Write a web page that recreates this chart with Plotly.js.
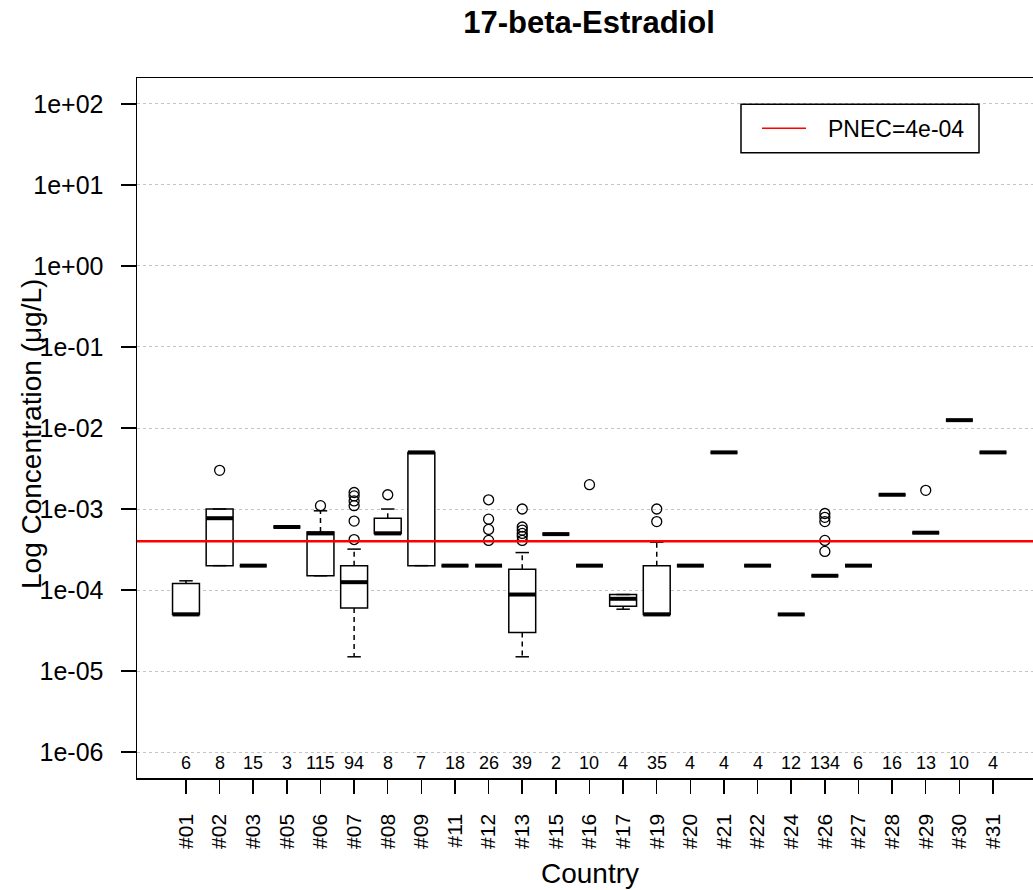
<!DOCTYPE html>
<html>
<head>
<meta charset="utf-8">
<script src="https://cdn.plot.ly/plotly-3.0.1.min.js"></script>
<style>html,body{margin:0;padding:0;background:#fff;}</style>
</head>
<body>
<div id="chart" style="width:1033px;height:890px;"></div>
<script>
// ---- data ----
var countries = ["#01","#02","#03","#05","#06","#07","#08","#09","#11","#12","#13","#15","#16","#17","#19","#20","#21","#22","#24","#26","#27","#28","#29","#30","#31"];
var counts    = [6, 8, 15, 3, 115, 94, 8, 7, 18, 26, 39, 2, 10, 4, 35, 4, 4, 4, 12, 134, 6, 16, 13, 10, 4];
var lowerWhisker = [5e-5, 2e-4, 2e-4, 6e-4, 1.5e-4, 1.5e-5, 5e-4, 2e-4, 2e-4, 2e-4, 1.5e-5, 5e-4, 2e-4, 5.8e-5, 5e-5, 2e-4, 5e-3, 2e-4, 5e-5, 1.5e-4, 2e-4, 1.5e-3, 5.1e-4, 1.25e-2, 5e-3];
var q1Values     = [5e-5, 2e-4, 2e-4, 6e-4, 1.5e-4, 6e-5, 5e-4, 2e-4, 2e-4, 2e-4, 3e-5, 5e-4, 2e-4, 6.3e-5, 5e-5, 2e-4, 5e-3, 2e-4, 5e-5, 1.5e-4, 2e-4, 1.5e-3, 5.1e-4, 1.25e-2, 5e-3];
var medianValues = [5e-5, 7.7e-4, 2e-4, 6e-4, 5e-4, 1.25e-4, 5e-4, 5e-3, 2e-4, 2e-4, 8.8e-5, 4.9e-4, 2e-4, 7.8e-5, 5e-5, 2e-4, 5e-3, 2e-4, 5e-5, 1.5e-4, 2e-4, 1.5e-3, 5.1e-4, 1.25e-2, 5e-3];
var q3Values     = [1.2e-4, 1e-3, 2e-4, 6e-4, 5.2e-4, 2e-4, 7.7e-4, 5e-3, 2e-4, 2e-4, 1.8e-4, 4.9e-4, 2e-4, 8.8e-5, 2e-4, 2e-4, 5e-3, 2e-4, 5e-5, 1.5e-4, 2e-4, 1.5e-3, 5.1e-4, 1.25e-2, 5e-3];
var upperWhisker = [1.3e-4, 1e-3, 2e-4, 6e-4, 9.5e-4, 3.2e-4, 1e-3, 5e-3, 2e-4, 2e-4, 2.9e-4, 4.9e-4, 2e-4, 8.8e-5, 3.9e-4, 2e-4, 5e-3, 2e-4, 5e-5, 1.5e-4, 2e-4, 1.5e-3, 5.1e-4, 1.25e-2, 5e-3];
var outlierCountry = ["#02","#06","#07","#07","#07","#07","#07","#07","#08","#12","#12","#12","#12","#13","#13","#13","#13","#13","#13","#16","#19","#19","#26","#26","#26","#26","#26","#29"];
var outlierValue   = [3e-3, 1.1e-3, 4.2e-4, 7.1e-4, 1.1e-3, 1.26e-3, 1.45e-3, 1.6e-3, 1.5e-3, 4.1e-4, 5.6e-4, 7.5e-4, 1.3e-3, 4.1e-4, 4.6e-4, 5e-4, 5.5e-4, 6e-4, 1e-3, 2e-3, 7e-4, 1e-3, 3e-4, 4.1e-4, 7e-4, 7.9e-4, 8.8e-4, 1.7e-3];
var pnec = 4e-4;
var pnecLabel = "PNEC=4e-04";
var yTickValues = [1e2, 1e1, 1e0, 1e-1, 1e-2, 1e-3, 1e-4, 1e-5, 1e-6];
var yTickLabels = ["1e+02","1e+01","1e+00","1e-01","1e-02","1e-03","1e-04","1e-05","1e-06"];

// ---- build traces ----
var FONT = "Liberation Sans, Arial, Helvetica, sans-serif";
var BOXW = 0.8;
var pos = countries.map(function(c, i){ return i + 1; });

var boxTrace = {
  type: "box", x: pos,
  q1: q1Values, median: medianValues, q3: q3Values,
  lowerfence: q1Values, upperfence: q3Values,
  width: BOXW, whiskerwidth: 0, boxpoints: false,
  fillcolor: "white", line: {color: "black", width: 1.5},
  showlegend: false, hoverinfo: "skip"
};

var wx = [], wy = [], cx = [], cy = [], mx = [], my = [];
pos.forEach(function(p, i){
  if (upperWhisker[i] > q3Values[i]) { wx.push(p, p, null); wy.push(q3Values[i], upperWhisker[i], null); }
  if (lowerWhisker[i] < q1Values[i]) { wx.push(p, p, null); wy.push(q1Values[i], lowerWhisker[i], null); }
  cx.push(p - BOXW/4, p + BOXW/4, null, p - BOXW/4, p + BOXW/4, null);
  cy.push(upperWhisker[i], upperWhisker[i], null, lowerWhisker[i], lowerWhisker[i], null);
  mx.push(p - BOXW/2, p + BOXW/2, null);
  my.push(medianValues[i], medianValues[i], null);
});

var whiskerTrace = {type: "scatter", mode: "lines", x: wx, y: wy,
  line: {color: "black", width: 1.5, dash: "5px,4px"}, showlegend: false, hoverinfo: "skip"};
var capTrace = {type: "scatter", mode: "lines", x: cx, y: cy,
  line: {color: "black", width: 1.5}, showlegend: false, hoverinfo: "skip"};
var medianTrace = {type: "scatter", mode: "lines", x: mx, y: my,
  line: {color: "black", width: 4}, showlegend: false, hoverinfo: "skip"};
var outlierTrace = {type: "scatter", mode: "markers",
  x: outlierCountry.map(function(c){ return countries.indexOf(c) + 1; }),
  y: outlierValue,
  marker: {symbol: "circle-open", size: 10, color: "black", line: {width: 1.3, color: "black"}},
  showlegend: false, hoverinfo: "skip"};

// count labels inside plot bottom
var countAnnotations = counts.map(function(n, i){
  return {x: pos[i], xref: "x", y: 0.0221, yref: "paper", text: String(n),
    showarrow: false, xanchor: "center", yanchor: "middle",
    font: {family: FONT, size: 18, color: "black"}};
});

// legend (drawn box) in paper coords
function px2x(px){ return (px - 137) / 896; }
function py2y(py){ return (778 - py) / 700; }
countAnnotations.push({x: px2x(826), xref: "paper", y: py2y(128.5), yref: "paper",
  text: pnecLabel, showarrow: false, xanchor: "left", yanchor: "middle",
  font: {family: FONT, size: 23, color: "black"}});
countAnnotations.push({x: px2x(31), xref: "paper", y: py2y(434), yref: "paper",
  text: "Log Concentration (\u03bcg/L)", textangle: -90, showarrow: false,
  xanchor: "center", yanchor: "middle",
  font: {family: FONT, size: 28, color: "black"}});
countAnnotations.push({x: px2x(590), xref: "paper", y: py2y(873), yref: "paper",
  text: "Country", showarrow: false, xanchor: "center", yanchor: "middle",
  font: {family: FONT, size: 28, color: "black"}});

var shapes = [
  {type: "line", xref: "paper", x0: 0, x1: 1, yref: "y", y0: pnec, y1: pnec,
   line: {color: "#ff0000", width: 2.5}, layer: "above"},
  {type: "rect", xref: "paper", yref: "paper",
   x0: px2x(741), x1: px2x(979), y0: py2y(152.7), y1: py2y(104.3),
   line: {color: "black", width: 1.5}, fillcolor: "white", layer: "above"},
  {type: "line", xref: "paper", yref: "paper",
   x0: px2x(762), x1: px2x(806), y0: py2y(128.3), y1: py2y(128.3),
   line: {color: "#ff0000", width: 1.5}, layer: "above"}
];

var layout = {
  width: 1033, height: 890,
  margin: {l: 137, r: 0, t: 78, b: 112, pad: 0},
  paper_bgcolor: "white", plot_bgcolor: "white",
  font: {family: FONT, color: "black"},
  title: {text: "<b>17-beta-Estradiol</b>", font: {family: FONT, size: 31, color: "black"},
    xref: "container", x: 0.5702, xanchor: "center", yref: "container", y: 0.9747, yanchor: "middle"},
  xaxis: {
    type: "linear", range: [-0.457, 26.19],
    tickmode: "array", tickvals: pos, ticktext: countries, tickangle: -90,
    ticks: "outside", ticklen: 14, tickwidth: 1.5, tickcolor: "black",
    ticklabelstandoff: 12,
    tickfont: {family: FONT, size: 21, color: "black"},
    showline: true, linecolor: "black", linewidth: 1.5, mirror: true,
    showgrid: false, zeroline: false
  },
  yaxis: {
    type: "log", range: [-6.32, 2.32],
    tickmode: "array", tickvals: yTickValues, ticktext: yTickLabels,
    ticks: "outside", ticklen: 15, tickwidth: 1.5, tickcolor: "black",
    ticklabelstandoff: 12,
    tickfont: {family: FONT, size: 25, color: "black"},
    showline: true, linecolor: "black", linewidth: 1.5, mirror: false,
    showgrid: true, gridcolor: "#c4c4c4", gridwidth: 1, griddash: "3px,3px",
    zeroline: false
  },
  showlegend: false,
  annotations: countAnnotations,
  shapes: shapes
};

Plotly.newPlot("chart", [boxTrace, whiskerTrace, capTrace, medianTrace, outlierTrace], layout,
  {displayModeBar: false, staticPlot: true});
</script>
</body>
</html>
